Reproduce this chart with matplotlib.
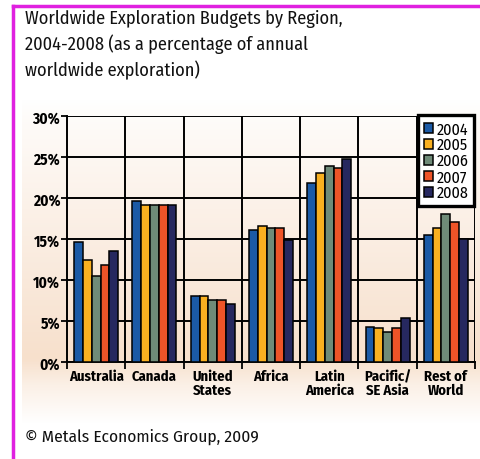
import numpy as np
import matplotlib
matplotlib.use("Agg")
import matplotlib.pyplot as plt
from matplotlib.lines import Line2D

regions = ["Australia", "Canada", "United\nStates", "Africa", "Latin\nAmerica", "Pacific/\nSE Asia", "Rest of\nWorld"]
years = ["2004", "2005", "2006", "2007", "2008"]
v2004 = [14.6, 19.6, 8.0, 16.1, 21.8, 4.3, 15.5]
v2005 = [12.4, 19.1, 8.0, 16.6, 23.1, 4.1, 16.3]
v2006 = [10.5, 19.2, 7.6, 16.3, 23.9, 3.7, 18.0]
v2007 = [11.8, 19.1, 7.6, 16.4, 23.6, 4.1, 17.1]
v2008 = [13.5, 19.1, 7.1, 14.9, 24.8, 5.4, 15.0]
series = [v2004, v2005, v2006, v2007, v2008]
colors = ["#1b5aa6", "#f9b020", "#6f8b78", "#ee5428", "#26285f"]
yticks = [0, 5, 10, 15, 20, 25, 30]

font = ["Fira Sans Condensed", "PT Sans Narrow", "DejaVu Sans"]
plt.rcParams['font.family'] = font

W, H = 480, 460
fig = plt.figure(figsize=(W/100, H/100), dpi=100)

# background gradient
bg = fig.add_axes([22/W, 1-425/H, 458/W, 325/H])
bg.set_axis_off()
ys = np.linspace(0, 1, 200)
peach = np.array([247, 224, 204]) / 255.0
white = np.array([1.0, 1.0, 1.0])
t = np.interp(ys, [0, 0.06, 0.8, 0.88, 1.0], [0, 0.12, 1.0, 0.5, 0])
grad = white[None, :] * (1 - t[:, None]) + peach[None, :] * t[:, None]
img = np.repeat(grad[:, None, :], 2, axis=1)
bg.imshow(img, aspect='auto', extent=[0, 1, 1, 0])
bg.set_xlim(0, 1); bg.set_ylim(1, 0)

ax = fig.add_axes([67/W, 1-363/H, 408/W, 246/H])
ax.set_facecolor('none')
n = len(series)
bw = 0.151
x = np.arange(len(regions))
for k, (vals, c) in enumerate(zip(series, colors)):
    ax.bar(x + (k - (n-1)/2) * bw, vals, width=bw, color=c, edgecolor='black',
           linewidth=1.1, zorder=3, label=years[k])

ax.set_xlim(-0.5, len(regions) - 0.5)
ax.set_ylim(0, 30)
ax.set_yticks(yticks)
ax.set_yticklabels([f"{v}%" for v in yticks], fontsize=11, fontweight='bold')
ax.set_xticks(x)
ax.set_xticklabels(regions, fontsize=10.5, fontweight='bold', linespacing=1.0)
ax.set_xticks(np.arange(-0.5, len(regions)), minor=True)
ax.tick_params(axis='x', which='major', length=0, pad=5)
ax.tick_params(axis='x', which='minor', length=5, width=1.3, color='black')
ax.tick_params(axis='y', length=4, width=1.3, pad=1)
ax.grid(axis='y', color='black', linewidth=1.4, zorder=1)
for b in np.arange(0.5, len(regions) - 0.5):
    ax.axvline(b, color='black', linewidth=1.4, zorder=1)
for s in ['top', 'right']:
    ax.spines[s].set_visible(False)
ax.spines['left'].set_linewidth(1.4)
ax.spines['bottom'].set_linewidth(1.4)
ax.axvline(len(regions) - 0.5, color='black', linewidth=1.4, zorder=1)

leg = ax.legend(loc='upper right', bbox_to_anchor=(0.997, 1.003), frameon=True,
                fancybox=False, fontsize=11.5, handlelength=0.6, handleheight=0.6,
                handletextpad=0.2, labelspacing=0.0, borderpad=0.35, borderaxespad=0)
leg.get_frame().set_edgecolor('black')
leg.get_frame().set_linewidth(2.4)
leg.get_frame().set_facecolor('white')
leg.get_frame().set_alpha(1)
leg.set_zorder(5)

# title
fig.text(25/W, 1-10/H, "Worldwide Exploration Budgets by Region,\n2004-2008 (as a percentage of annual\nworldwide exploration)",
         ha='left', va='top', fontsize=13.2, fontweight='normal', linespacing=1.42, color='#111111')
fig.text(25/W, 1-437/H, "\u00a9 Metals Economics Group, 2009", ha='left', va='center',
         fontsize=12.5, fontweight='normal', color='#111111')

# magenta frame
fig.add_artist(Line2D([13/W, 13/W], [0, 1-7/H], color='#e020e0', linewidth=2.5))
fig.add_artist(Line2D([13/W, 1], [1-7/H, 1-7/H], color='#e020e0', linewidth=2.5))

fig.savefig("out.png", dpi=100)
